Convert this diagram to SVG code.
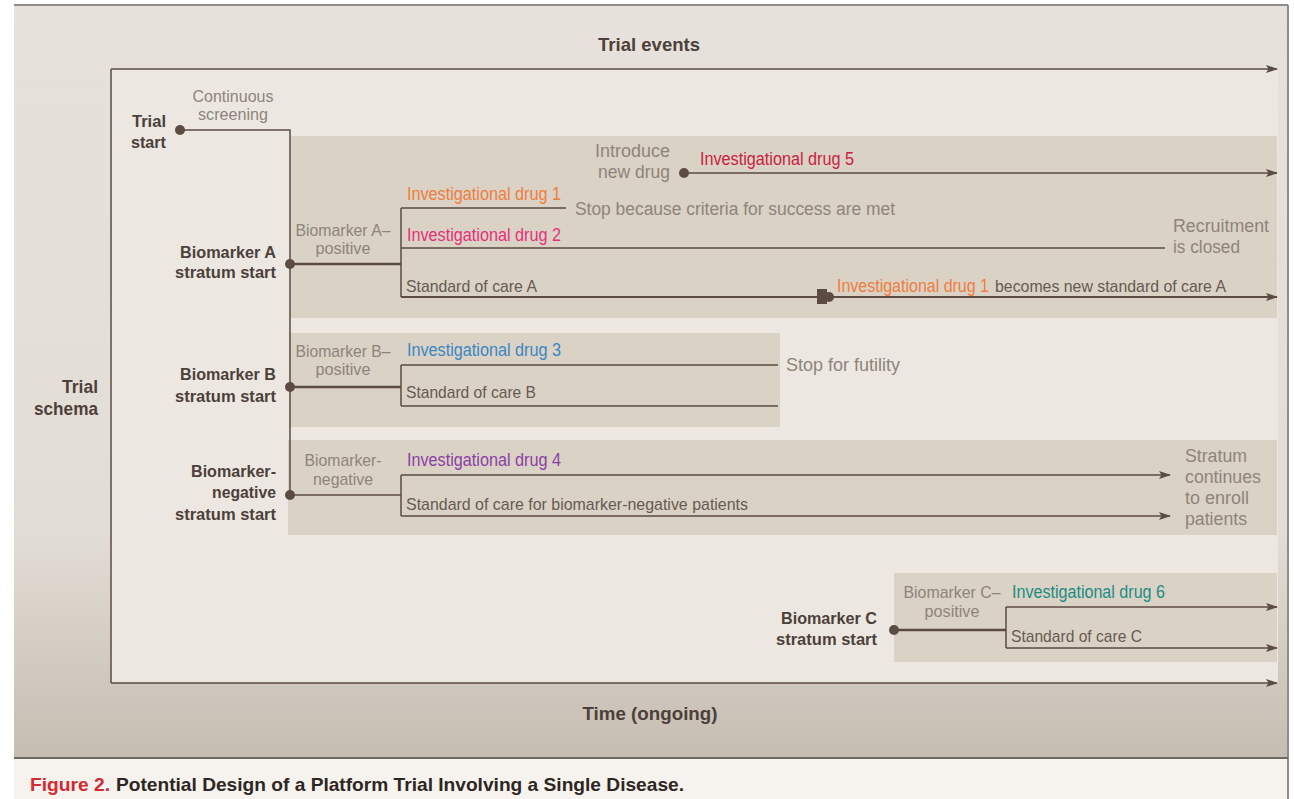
<svg xmlns="http://www.w3.org/2000/svg" width="1294" height="799" viewBox="0 0 1294 799">
<defs>
<linearGradient id="bg" x1="0" y1="0" x2="0" y2="1">
<stop offset="0" stop-color="#e6e2db"/>
<stop offset="0.7" stop-color="#e2ddd5"/>
<stop offset="1" stop-color="#c6bdb2"/>
</linearGradient>
<marker id="arr" viewBox="0 0 12 8" refX="11" refY="4" markerWidth="12" markerHeight="8" markerUnits="userSpaceOnUse" orient="auto">
<path d="M0,0 L12,4 L0,8 L2.5,4 z" fill="#5b4b43"/>
</marker>
</defs>
<style>
.ln{stroke:#5b4b43;stroke-width:1.5;fill:none}
.thk{stroke-width:2.6}
.mid{stroke-width:2.1}
.box{fill:#dad2c5}
.dot{fill:#5b4b43}
text{font-family:"Liberation Sans",Arial,sans-serif}
.g{fill:#8e847b;font-size:17px}
.g2{fill:#8e847b;font-size:18px}
.d{fill:#665a52;font-size:17px}
.b{fill:#4d403a;font-weight:bold;font-size:17px}
.ax{fill:#4d403a;font-weight:bold;font-size:19px}
.dr{font-size:17.5px}
.end{text-anchor:end}
.mi{text-anchor:middle}
</style>

<!-- panel background -->
<rect x="0" y="0" width="1294" height="799" fill="#ffffff"/>
<rect x="14" y="5" width="1274" height="753" fill="url(#bg)"/>
<rect x="14" y="759" width="1274" height="40" fill="#f6f3ee"/>
<line x1="14" y1="5" x2="1288" y2="5" stroke="#8d8d8d" stroke-width="2"/>
<line x1="1288" y1="5" x2="1288" y2="799" stroke="#8d8d8d" stroke-width="2"/>
<line x1="14" y1="758" x2="1288" y2="758" stroke="#6d6a66" stroke-width="2"/>
<rect x="111" y="69" width="1167" height="614" fill="#ece8e1"/>

<!-- stratum shaded boxes -->
<rect class="box" x="290" y="136" width="987" height="182"/>
<rect class="box" x="289" y="333" width="491" height="94"/>
<rect class="box" x="288" y="440" width="989" height="95"/>
<rect class="box" x="894" y="573" width="383" height="89"/>

<!-- axes -->
<g id="axes">
<line class="ln" x1="111" y1="69" x2="1277" y2="69" marker-end="url(#arr)" stroke-width="2"/>
<line class="ln" x1="111" y1="69" x2="111" y2="683" stroke-width="2"/>
<line class="ln" x1="111" y1="683" x2="1277" y2="683" marker-end="url(#arr)" stroke-width="2"/>
<text class="ax mi" x="649" y="51" textLength="102" lengthAdjust="spacingAndGlyphs">Trial events</text>
<text class="ax mi" x="650" y="720" textLength="135" lengthAdjust="spacingAndGlyphs">Time (ongoing)</text>
<text class="ax end" x="98" y="393" textLength="36" lengthAdjust="spacingAndGlyphs">Trial</text>
<text class="ax end" x="98" y="415" textLength="64" lengthAdjust="spacingAndGlyphs">schema</text>
</g>

<!-- connectors -->
<g id="connectors">
<polyline class="ln" points="180,130 290,130 290,495"/>
<line class="ln thk" x1="290" y1="264" x2="401" y2="264"/>
<line class="ln" x1="401" y1="208" x2="401" y2="297"/>
<line class="ln" x1="401" y1="208" x2="566" y2="208"/>
<line class="ln" x1="401" y1="248" x2="1165" y2="248"/>
<line class="ln mid" x1="401" y1="297" x2="1277" y2="297" marker-end="url(#arr)"/>
<line class="ln" x1="684" y1="173" x2="1277" y2="173" marker-end="url(#arr)"/>
<line class="ln thk" x1="290" y1="387" x2="401" y2="387"/>
<line class="ln" x1="401" y1="365" x2="401" y2="406"/>
<line class="ln" x1="401" y1="365" x2="778" y2="365"/>
<line class="ln" x1="401" y1="406" x2="778" y2="406"/>
<line class="ln" x1="290" y1="495" x2="401" y2="495"/>
<line class="ln" x1="401" y1="475" x2="401" y2="516"/>
<line class="ln" x1="401" y1="475" x2="1170" y2="475" marker-end="url(#arr)"/>
<line class="ln" x1="401" y1="516" x2="1170" y2="516" marker-end="url(#arr)"/>
<line class="ln thk" x1="894" y1="630" x2="1006" y2="630"/>
<line class="ln" x1="1006" y1="607" x2="1006" y2="648"/>
<line class="ln" x1="1006" y1="607" x2="1277" y2="607" marker-end="url(#arr)"/>
<line class="ln" x1="1006" y1="648" x2="1277" y2="648" marker-end="url(#arr)"/>
</g>

<!-- nodes -->
<g id="trial-start">
<circle class="dot" cx="180" cy="130" r="5"/>
<text class="b end" x="166" y="127" textLength="34" lengthAdjust="spacingAndGlyphs">Trial</text>
<text class="b end" x="166" y="148" textLength="35" lengthAdjust="spacingAndGlyphs">start</text>
<text class="g mi" x="233" y="102" textLength="81" lengthAdjust="spacingAndGlyphs">Continuous</text>
<text class="g mi" x="233" y="120" textLength="70" lengthAdjust="spacingAndGlyphs">screening</text>
</g>

<g id="stratum-a">
<circle class="dot" cx="290" cy="264" r="5"/>
<text class="b end" x="276" y="258" textLength="96" lengthAdjust="spacingAndGlyphs">Biomarker A</text>
<text class="b end" x="276" y="278" textLength="101" lengthAdjust="spacingAndGlyphs">stratum start</text>
<text class="g mi" x="343" y="236" textLength="95" lengthAdjust="spacingAndGlyphs">Biomarker A–</text>
<text class="g mi" x="343" y="254" textLength="55" lengthAdjust="spacingAndGlyphs">positive</text>
</g>

<g id="drug-1">
<text class="dr" x="407" y="200" fill="#ef7d3e" textLength="154" lengthAdjust="spacingAndGlyphs">Investigational drug 1</text>
<text class="g2" x="575" y="215" textLength="320" lengthAdjust="spacingAndGlyphs">Stop because criteria for success are met</text>
</g>

<g id="drug-2">
<text class="dr" x="407" y="241" fill="#e6307a" textLength="154" lengthAdjust="spacingAndGlyphs">Investigational drug 2</text>
<text class="g2" x="1173" y="232" textLength="96" lengthAdjust="spacingAndGlyphs">Recruitment</text>
<text class="g2" x="1173" y="253" textLength="67" lengthAdjust="spacingAndGlyphs">is closed</text>
</g>

<g id="soc-a">
<text class="d" x="406" y="292" textLength="131" lengthAdjust="spacingAndGlyphs">Standard of care A</text>
<rect class="dot" x="817" y="289" width="10" height="15"/>
<circle class="dot" cx="829" cy="297" r="5"/>
<text class="dr" x="837" y="292" fill="#ef7d3e" textLength="152" lengthAdjust="spacingAndGlyphs">Investigational drug 1</text>
<text class="d" x="995" y="292" textLength="231" lengthAdjust="spacingAndGlyphs">becomes new standard of care A</text>
</g>

<g id="drug-5">
<circle class="dot" cx="684" cy="173" r="5"/>
<text class="g2 end" x="670" y="157" textLength="75" lengthAdjust="spacingAndGlyphs">Introduce</text>
<text class="g2 end" x="670" y="178" textLength="72" lengthAdjust="spacingAndGlyphs">new drug</text>
<text class="dr" x="700" y="165" fill="#c8223e" textLength="154" lengthAdjust="spacingAndGlyphs">Investigational drug 5</text>
</g>

<g id="stratum-b">
<circle class="dot" cx="290" cy="387" r="5"/>
<text class="b end" x="276" y="380" textLength="96" lengthAdjust="spacingAndGlyphs">Biomarker B</text>
<text class="b end" x="276" y="402" textLength="101" lengthAdjust="spacingAndGlyphs">stratum start</text>
<text class="g mi" x="343" y="357" textLength="95" lengthAdjust="spacingAndGlyphs">Biomarker B–</text>
<text class="g mi" x="343" y="375" textLength="55" lengthAdjust="spacingAndGlyphs">positive</text>
</g>

<g id="drug-3">
<text class="dr" x="407" y="356" fill="#3c86c2" textLength="154" lengthAdjust="spacingAndGlyphs">Investigational drug 3</text>
<text class="g2" x="786" y="371" textLength="114" lengthAdjust="spacingAndGlyphs">Stop for futility</text>
</g>

<g id="soc-b">
<text class="d" x="406" y="398" textLength="130" lengthAdjust="spacingAndGlyphs">Standard of care B</text>
</g>

<g id="stratum-neg">
<circle class="dot" cx="290" cy="495" r="5"/>
<text class="b end" x="276" y="477" textLength="85" lengthAdjust="spacingAndGlyphs">Biomarker-</text>
<text class="b end" x="276" y="498" textLength="64" lengthAdjust="spacingAndGlyphs">negative</text>
<text class="b end" x="276" y="520" textLength="101" lengthAdjust="spacingAndGlyphs">stratum start</text>
<text class="g mi" x="343" y="466" textLength="77" lengthAdjust="spacingAndGlyphs">Biomarker-</text>
<text class="g mi" x="343" y="485" textLength="60" lengthAdjust="spacingAndGlyphs">negative</text>
</g>

<g id="drug-4">
<text class="dr" x="407" y="466" fill="#8b3fa3" textLength="154" lengthAdjust="spacingAndGlyphs">Investigational drug 4</text>
</g>

<g id="soc-neg">
<text class="d" x="406" y="510" textLength="342" lengthAdjust="spacingAndGlyphs">Standard of care for biomarker-negative patients</text>
<text class="g2" x="1185" y="462" textLength="62" lengthAdjust="spacingAndGlyphs">Stratum</text>
<text class="g2" x="1185" y="483" textLength="76" lengthAdjust="spacingAndGlyphs">continues</text>
<text class="g2" x="1185" y="504" textLength="64" lengthAdjust="spacingAndGlyphs">to enroll</text>
<text class="g2" x="1185" y="525" textLength="62" lengthAdjust="spacingAndGlyphs">patients</text>
</g>

<g id="stratum-c">
<circle class="dot" cx="894" cy="630" r="5"/>
<text class="b end" x="877" y="624" textLength="96" lengthAdjust="spacingAndGlyphs">Biomarker C</text>
<text class="b end" x="877" y="645" textLength="101" lengthAdjust="spacingAndGlyphs">stratum start</text>
<text class="g mi" x="952" y="598" textLength="97" lengthAdjust="spacingAndGlyphs">Biomarker C–</text>
<text class="g mi" x="952" y="617" textLength="55" lengthAdjust="spacingAndGlyphs">positive</text>
</g>

<g id="drug-6">
<text class="dr" x="1012" y="598" fill="#1b8c84" textLength="153" lengthAdjust="spacingAndGlyphs">Investigational drug 6</text>
</g>

<g id="soc-c">
<text class="d" x="1011" y="642" textLength="131" lengthAdjust="spacingAndGlyphs">Standard of care C</text>
</g>

<g id="caption">
<text x="30" y="791" font-size="19" font-weight="bold" fill="#d42a34" textLength="80" lengthAdjust="spacingAndGlyphs">Figure 2.</text>
<text x="116" y="791" font-size="19" font-weight="bold" fill="#2e2622" textLength="568" lengthAdjust="spacingAndGlyphs">Potential Design of a Platform Trial Involving a Single Disease.</text>
</g>
</svg>
